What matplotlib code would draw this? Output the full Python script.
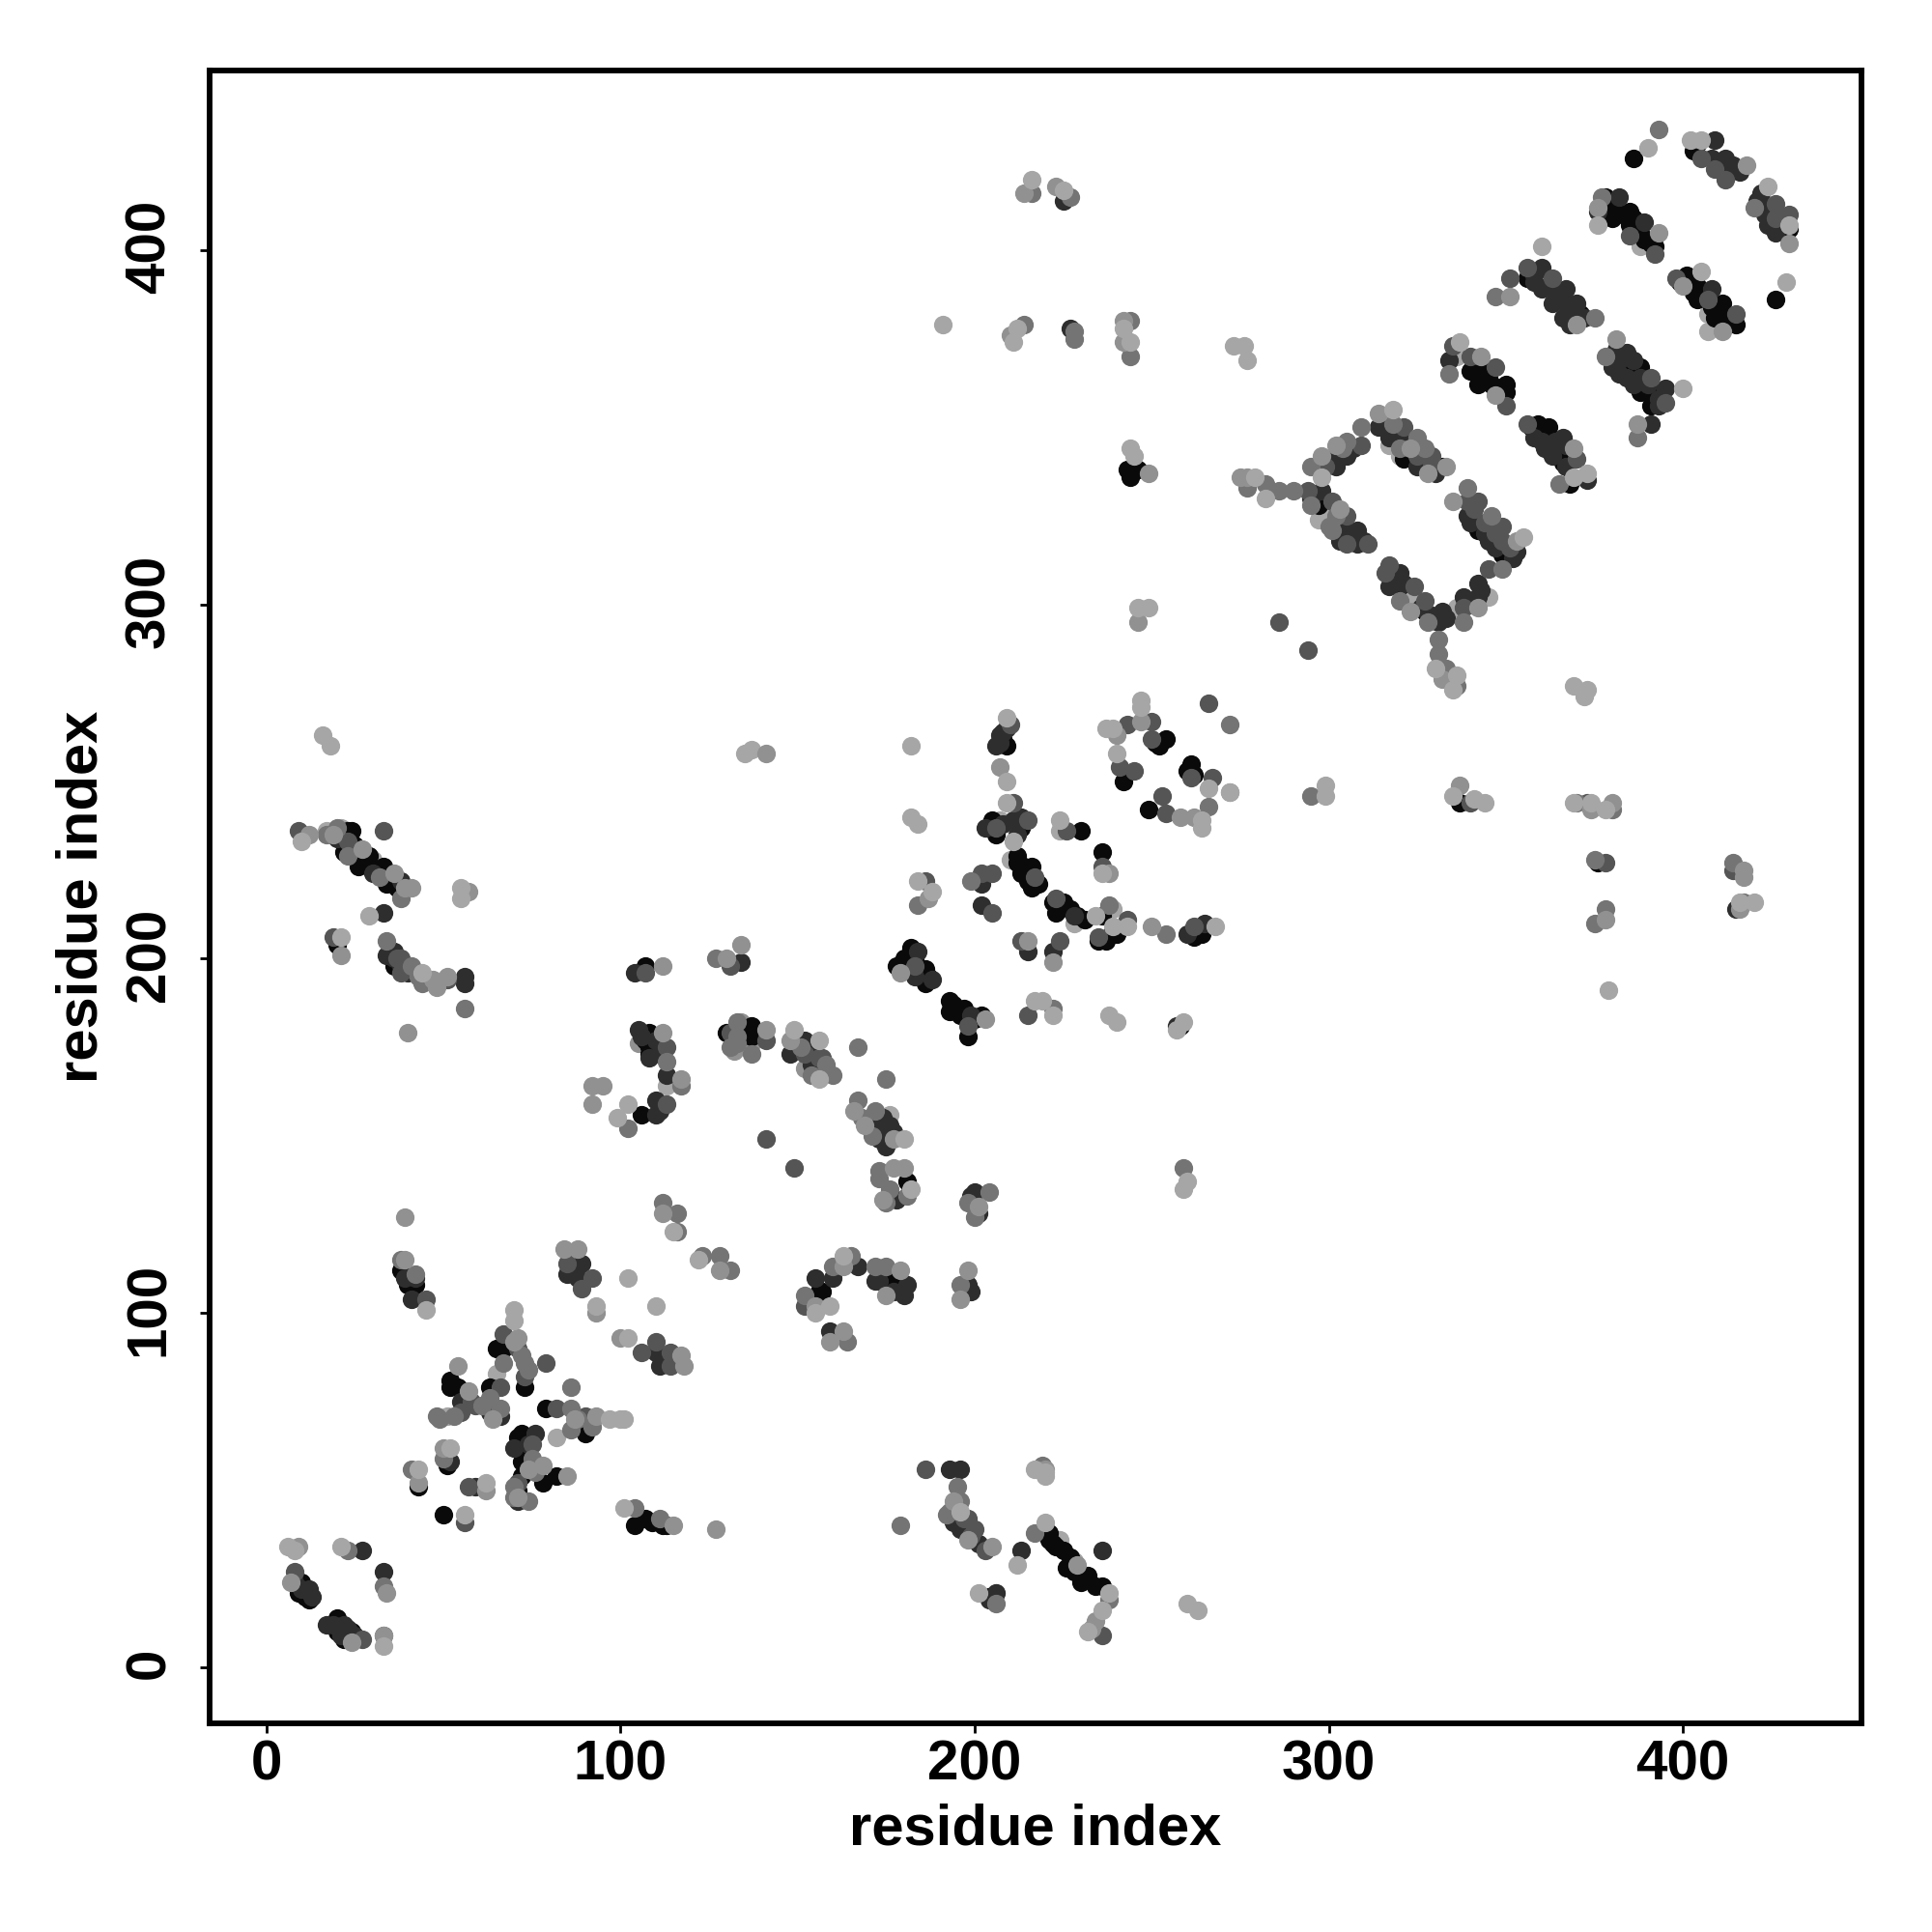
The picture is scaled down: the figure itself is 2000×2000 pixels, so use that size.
import matplotlib
matplotlib.use("Agg")
import matplotlib.pyplot as plt
from matplotlib.transforms import ScaledTranslation

# contacts, one list per grey shade (residue i, residue j)
black_pts = [(10,24),(9,21),(11,20),(12,19),(20,14),(20,10),(24,10),(22,8),(43,51),(51,57),(50,43),(38,112),
    (40,108),(42,108),(52,79),(54,79),(65,90),(67,90),(73,79),(65,72),(79,73),(90,66),(71,65),(73,65),(72,58),
    (72,54),(78,52),(82,54),(63,79),(107,42),(112,40),(156,106),(176,109),(179,109),(157,106),(23,236),(22,230),
    (25,232),(29,229),(26,226),(33,226),(34,221),(20,204),(36,198),(107,198),(108,179),(108,175),(106,156),
    (137,181),(130,179),(137,178),(205,239),(213,237),(206,235),(230,236),(236,230),(212,229),(212,227),(216,226),
    (213,224),(215,222),(216,220),(222,216),(225,216),(223,213),(227,214),(229,212),(236,212),(240,207),(237,205),
    (263,208),(182,203),(178,198),(186,197),(186,193),(193,188),(193,185),(197,186),(196,184),(202,184),(198,178),
    (242,250),(254,262),(261,255),(249,242),(221,38),(222,35),(225,33),(226,28),(232,26),(230,24),(236,23),(204,20),
    (243,338),(246,338),(181,137),(386,426),(404,430),(378,415),(385,411),(381,410),(385,407),(388,405),(392,401),
    (401,393),(404,390),(404,386),(411,385),(411,381),(415,379),(430,406),(426,386),(356,392),(384,367),(388,367),
    (388,360),(391,360),(391,356),(340,366),(344,366),(342,362),(346,362),(350,362),(350,360),(359,351),(362,350),
    (362,347),(365,344),(366,340),(368,334),(321,341),(332,339),(297,328),(320,305),(327,298),(342,321),(349,314),
    (371,382),(337,244),(376,227),
    (11,22),(21,12),(23,9),(24,236),(28,228),(31,225),(35,222),(37,220),(221,36),(223,34),(227,31),(228,27),(231,25),
    (234,23),(180,200),(184,197),(187,195),(194,187),(195,185),(200,183),(208,262),(209,260),(182,199),(183,200),
    (214,226),(218,221),(224,214),(231,211),(235,205),(239,208),(205,237),(107,177),(109,177),(108,173),(137,180),
    (379,412),(380,409),(383,410),(386,409),(387,405),(389,403),(391,402),(399,391),(402,391),(403,388),(406,388),
    (408,384),(409,381),(413,380),(386,365),(389,362),(392,358),(357,350),(360,349),(363,345),(345,364),(348,361),
    (341,368),(72,62),(72,66),(73,60),(71,50),(68,91),(52,81),(64,71),(104,40),(109,41),(113,40),(251,261),(252,260),
    (260,253),(262,252),(262,206),(264,207),(258,181),(244,336),(403,428)]
dark_pts = [(27,33),(33,27),(8,24),(12,22),(13,20),(19,12),(22,12),(52,58),(59,51),(63,72),(89,114),(85,111),(88,110),
    (110,89),(111,85),(41,104),(178,132),(160,110),(167,113),(172,109),(180,105),(198,108),(200,134),(155,110),(159,95),
    (33,213),(20,234),(38,222),(30,224),(36,202),(34,201),(56,195),(56,193),(104,196),(134,199),(105,180),(108,172),
    (113,167),(110,160),(110,156),(148,173),(152,177),(208,264),(207,261),(211,239),(202,215),(202,221),(228,212),
    (260,207),(265,210),(215,202),(222,202),(184,202),(183,195),(188,194),(199,184),(257,181),(173,153),(176,153),
    (173,149),(193,56),(196,56),(194,41),(196,39),(201,35),(213,33),(206,21),(204,19),(236,33),(225,414),(227,378),
    (382,415),(376,411),(409,431),(408,426),(412,426),(412,423),(416,422),(422,416),(423,412),(423,410),(426,405),
    (408,389),(360,395),(360,389),(364,389),(367,389),(363,385),(367,385),(370,385),(366,381),(381,372),(384,371),
    (380,367),(384,364),(388,364),(395,361),(391,351),(389,408),(358,347),(366,347),(361,344),(334,369),(373,335),
    (314,350),(317,347),(321,346),(325,339),(305,342),(302,342),(302,339),(298,332),(305,321),(308,321),(308,317),
    (320,309),(317,305),(332,298),(331,295),(339,325),(346,322),(345,318),(353,315),(342,306),(338,302),(342,302),
    (415,214),
    (319,348),(323,345),(327,341),(330,337),(303,344),(307,344),(300,340),(295,330),(306,319),(310,318),(303,318),
    (318,306),(321,306),(326,299),(329,297),(333,296),(340,323),(344,320),(347,316),(352,313),(343,304),(340,300),
    (358,393),(362,390),(365,387),(369,383),(372,381),(368,379),(358,391),(382,369),(386,369),(382,365),(386,362),
    (390,362),(393,358),(393,356),(410,425),(414,424),(421,414),(425,411),(424,407),(428,407),(360,346),(364,346),
    (367,345),(363,342),(367,339),(207,263),(209,265),(206,260),(208,238),(212,235),(203,237),(213,240),(36,200),
    (38,198),(40,196),(10,22),(17,12),(21,9),(23,11),(25,9),(55,75),(64,73),(66,71),(70,62),(74,63),(76,66),(71,47),
    (42,110),(39,110),(106,178),(110,177),(111,173),(111,157),(150,175),(154,175),(154,170),(174,155),(177,151),
    (175,147),(199,106),(199,133),(201,128),(173,109),(177,106),(181,108)]
dim_pts = [(8,27),(27,8),(33,9),(56,41),(57,51),(45,104),(58,75),(66,79),(73,82),(71,90),(67,94),(79,86),(82,73),(90,71),
    (75,63),(85,114),(92,110),(89,107),(110,92),(106,89),(114,89),(114,85),(141,149),(149,141),(152,102),(186,56),
    (197,42),(200,39),(236,9),(9,236),(23,233),(33,236),(19,206),(38,200),(38,196),(51,194),(131,198),(107,196),
    (113,175),(113,159),(131,179),(141,177),(152,173),(156,172),(157,172),(210,266),(211,244),(226,236),(215,239),
    (206,237),(217,223),(186,222),(202,224),(205,224),(205,213),(223,217),(243,211),(235,206),(262,209),(213,205),
    (224,205),(215,184),(243,266),(250,267),(241,254),(245,253),(250,262),(261,251),(267,251),(266,272),(253,246),
    (254,241),(183,198),(198,181),(236,226),(398,392),(405,426),(409,423),(412,420),(426,413),(426,409),(430,410),
    (407,386),(415,382),(356,395),(351,392),(363,392),(385,404),(391,364),(395,357),(392,399),(335,373),(340,370),
    (347,367),(350,356),(356,351),(370,341),(321,350),(325,342),(329,342),(329,340),(309,345),(299,339),(294,332),
    (301,329),(305,325),(305,317),(311,317),(317,311),(316,309),(324,305),(327,301),(338,299),(339,329),(342,329),
    (349,322),(349,318),(345,310),(286,295),(294,287),(378,227),(414,225),(340,244),(373,244),(71,52),
    (341,327),(344,323),(347,320),(351,316),(198,42),(199,37),(203,33),(37,200),(40,197),(55,72),(59,74),(63,73)]
mid_pts = [(23,33),(48,71),(53,71),(33,23),(41,56),(50,59),(42,111),(38,115),(61,74),(63,76),(86,79),(86,73),(86,67),(67,86),
    (73,86),(70,48),(112,131),(116,128),(116,123),(123,116),(128,116),(131,112),(104,45),(111,42),(152,105),(160,113),
    (164,92),(165,116),(172,113),(175,113),(173,138),(196,108),(198,131),(204,134),(200,127),(259,141),(20,237),(34,205),
    (41,198),(44,193),(38,217),(56,186),(127,200),(133,182),(131,175),(137,173),(113,171),(117,164),(102,152),
    (184,215),(199,222),(238,215),(254,207),(222,186),(167,175),(175,166),(160,167),(167,160),(172,157),(266,243),
    (272,266),(295,246),(195,51),(193,44),(179,40),(217,38),(238,19),(206,18),(219,57),(216,416),(227,415),(214,379),
    (228,377),(244,380),(244,370),(228,375),(393,434),(377,415),(420,412),(347,387),(375,381),(378,370),(387,347),
    (334,365),(365,334),(309,350),(305,346),(295,339),(277,333),(282,334),(286,332),(290,332),(318,351),(325,347),
    (320,301),(328,295),(331,290),(331,286),(333,282),(336,277),(339,333),(346,325),(349,310),(338,295),(301,321),
    (378,214),(375,210),(380,242),(370,244),(375,228),(414,227),(417,216),
    (49,70),(66,73),(72,88),(74,84),(88,70),(92,68),(75,59),(76,55),(70,51),(74,47),(168,155),(171,150),(173,140),
    (176,135),(175,131),(181,133),(151,175),(158,170),(154,167),(320,344),(327,344),(304,344),(302,325),(300,322),
    (295,328),(196,47),(192,43),(43,195),(17,235),(23,229),(32,223),(133,178),(133,176)]
gray_pts = [(9,34),(7,24),(34,21),(24,7),(33,9),(43,52),(50,62),(62,50),(39,127),(39,115),(54,85),(57,78),(71,93),(93,71),
    (64,70),(78,57),(74,56),(85,54),(71,48),(84,118),(88,118),(93,100),(100,93),(112,128),(128,112),(117,88),(118,85),
    (115,40),(127,39),(155,102),(159,92),(163,95),(163,113),(179,112),(175,105),(198,112),(196,104),(177,141),(180,141),
    (174,132),(201,130),(12,235),(27,231),(36,224),(41,220),(57,219),(21,201),(47,194),(51,195),(40,179),(141,258),
    (112,198),(130,200),(134,204),(112,179),(141,180),(117,166),(92,164),(95,164),(92,159),
    (148,177),(187,217),(207,254),(215,205),(222,199),(179,196),(203,183),(247,267),(240,263),
    (250,209),(258,240),(262,240),(272,247),(166,157),(169,153),(177,149),(238,224),(246,295),(194,47),(198,36),(205,34),
    (229,29),(233,11),(234,13),(220,56),(214,416),(223,418),(242,380),(242,374),(210,376),(249,337),(381,375),(351,387),
    (376,412),(393,405),(400,390),(418,424),(430,402),(411,377),(370,379),(387,351),(347,359),(343,370),(369,344),(314,354),
    (328,337),(333,339),(302,345),(298,342),(275,336),(277,336),(323,298),(332,279),(353,318),(342,299),(335,329),
    (337,249),(374,242),(380,244),(378,211),(417,225),(417,223),(416,214),
    (70,92),(87,70),(323,344),(303,327),(48,192),(19,235),(39,220)]
light_pts = [(6,34),(8,33),(21,34),(33,6),(45,101),(43,56),(52,62),(56,43),(62,52),(70,101),(70,98),(97,70),
    (100,70),(101,70),(102,110),(93,102),(110,102),(102,93),(122,115),(115,123),(101,45),(159,102),(155,100),
    (163,116),(180,149),(182,135),(260,137),(259,135),(156,166),(149,180),(156,177),(16,263),(18,260),(10,233),
    (29,212),(55,220),(55,217),(21,206),(44,196),(102,159),(99,155),
    (182,260),(209,268),(209,250),(182,240),(184,238),(209,244),(211,233),(224,239),(236,224),
    (184,222),(188,219),(234,212),(243,209),(239,209),(268,209),(217,188),(219,188),(222,184),
    (238,184),(240,182),(259,182),(257,180),(247,273),(247,271),(237,265),(239,265),(240,258),(266,248),(272,247),(264,239),
    (264,237),(299,249),(299,246),(246,299),(249,299),(196,44),(212,29),(220,41),(238,21),(236,16),(232,10),
    (201,21),(217,56),(220,55),(220,54),(260,18),(263,16),(216,420),(225,417),(191,379),(212,378),(211,374),(242,378),
    (244,374),(273,373),(276,373),(277,369),(244,344),(245,342),(390,429),(402,431),(405,431),(424,418),(430,407),(429,391),
    (376,407),(405,394),(360,401),(400,361),(337,374),(369,336),
    (373,337),(318,355),(279,336),(282,330),(298,336),(330,282),
    (336,280),(335,276),(355,319),(369,277),(373,276),(372,274),(335,246),(341,245),(344,244),(369,244),
    (374,244),(378,242),(379,191),(416,216),(420,216)]
# these two shades show only as edges behind the darker points
under_light_pts = [(320,342),(317,345),(324,302),(297,331),(343,363),(336,370),(377,412),(388,401),(407,382),(407,377),
    (210,228),(207,239),(239,214),(228,210),(224,236),(228,30),(224,36),(30,228),(17,236),(21,237),(135,258),(137,259),
    (113,164),(65,83),(51,71),(82,65),(176,156),(206,21),(297,324),(301,325),(345,302),(336,299)]
under_gray_pts = [(135,178),(134,182),(135,179),(132,174),(137,176),(155,176),(152,169),(156,168),(105,176)]

shades = [under_light_pts, under_gray_pts, black_pts, dark_pts, dim_pts, mid_pts, gray_pts, light_pts]
greys = ["#a6a6a6", "#919191", "#0a0a0a", "#2e2e2e", "#555555", "#747474", "#919191", "#a6a6a6"]
tick_vals = [0, 100, 200, 300, 400]

plt.rcParams["font.family"] = ["Liberation Sans", "DejaVu Sans"]
plt.rcParams["font.weight"] = "bold"

fig = plt.figure(figsize=(10, 10), dpi=200)
ax = fig.add_axes([217 / 2000, 1 - 1783.5 / 2000, 1710 / 2000, 1710.5 / 2000])

# light edges first, then darkest to lightest
for pts, grey in zip(shades, greys):
    xs = [p[0] for p in pts]
    ys = [p[1] for p in pts]
    ax.scatter(xs, ys, s=48, c=grey, linewidths=0, zorder=2)

ax.set_xlim(-16, 450.4)
ax.set_ylim(-15.7, 450.7)
ax.set_xticks(tick_vals)
ax.set_yticks(tick_vals)
ax.tick_params(length=3.5, width=1, labelsize=21)
ax.tick_params(axis="x", pad=2.5)
ax.tick_params(axis="y", pad=9)
nudge = ScaledTranslation(0, 0.019, fig.dpi_scale_trans)
for lab in ax.get_yticklabels():
    lab.set_rotation(90)
    lab.set_va("center")
    lab.set_transform(lab.get_transform() + nudge)
for s in ax.spines.values():
    s.set_linewidth(2.1)

ax.set_xlabel("residue index", fontsize=21.5, fontweight="bold", labelpad=4.5)
ax.set_ylabel("residue index", fontsize=21.5, fontweight="bold", labelpad=5.5)

plt.savefig("out.png", dpi=200)
